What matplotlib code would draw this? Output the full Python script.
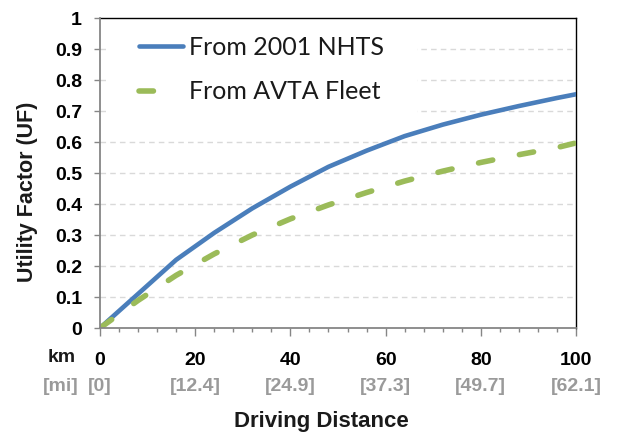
import matplotlib
matplotlib.use("Agg")
import matplotlib.pyplot as plt
from matplotlib.patches import Rectangle
from matplotlib.ticker import MultipleLocator

km = [0, 8, 16, 24, 32, 40, 48, 56, 64, 72, 80, 88, 96, 100]
uf_nhts = [0, 0.11, 0.22, 0.307, 0.386, 0.456, 0.52, 0.572, 0.619, 0.656, 0.688, 0.716, 0.742, 0.754]
uf_avta = [0, 0.089, 0.17, 0.239, 0.300, 0.352, 0.397, 0.437, 0.474, 0.506, 0.534, 0.559, 0.582, 0.597]
km_ticks = [0, 20, 40, 60, 80, 100]
mi_labels = ["[0]", "[12.4]", "[24.9]", "[37.3]", "[49.7]", "[62.1]"]
y_ticks = [0, 0.1, 0.2, 0.3, 0.4, 0.5, 0.6, 0.7, 0.8, 0.9, 1]
y_labels = ["0", "0.1", "0.2", "0.3", "0.4", "0.5", "0.6", "0.7", "0.8", "0.9", "1"]

W, H = 619, 436
fig = plt.figure(figsize=(W / 100, H / 100), dpi=100)
L, R, T, B = 100, 576, 18, 328
ax = fig.add_axes([L / W, 1 - B / H, (R - L) / W, (B - T) / H])

blue = "#4A7EBB"
green = "#9BBB59"
gray_axis = "#868686"
gray_txt = "#9A9A9A"

ax.set_xlim(0, 100)
ax.set_ylim(0, 1)

# gridlines
for y in y_ticks[1:-1]:
    ax.axhline(y, color="#D9D9D9", lw=1, ls=(0, (4, 3)), zorder=1)

# white legend backdrop
ax.add_patch(Rectangle(((106 - L) / (R - L), 0.69), (417 - 106) / (R - L), 0.31,
                       transform=ax.transAxes, facecolor="white", edgecolor="none", zorder=2))

ax.plot(km, uf_nhts, color=blue, lw=3.3, solid_capstyle="round", solid_joinstyle="round",
        zorder=3, label="From 2001 NHTS")
ax.plot(km, uf_avta, color=green, lw=4.0, ls=(0, (2.6, 4.9)), dash_capstyle="round", zorder=4,
        label="From AVTA Fleet")

# spines
for s in ["top", "right"]:
    ax.spines[s].set_color("black")
    ax.spines[s].set_linewidth(1.0)
for s in ["left", "bottom"]:
    ax.spines[s].set_color(gray_axis)
    ax.spines[s].set_linewidth(1.3)
    ax.spines[s].set_zorder(5)

ax.set_yticks(y_ticks)
ax.set_yticklabels(y_labels, fontfamily="Liberation Sans", fontweight="bold", fontsize=14)
ax.set_xticks(km_ticks)
ax.set_xticklabels([str(k) for k in km_ticks], fontfamily="Liberation Sans", fontweight="bold", fontsize=14)
ax.xaxis.set_minor_locator(MultipleLocator(4))
ax.tick_params(axis="y", direction="out", length=4, width=1, color=gray_axis, pad=9)
ax.tick_params(axis="x", which="major", direction="out", length=6, width=1, color=gray_axis, pad=11)
ax.tick_params(axis="x", which="minor", direction="out", length=3, width=1, color=gray_axis)

# mile labels
for k, lab in zip(km_ticks, mi_labels):
    ax.text(k, -(386 - B) / (B - T), lab, ha="center", va="center", fontfamily="Liberation Sans",
            fontweight="bold", fontsize=14, color=gray_txt, transform=ax.get_xaxis_transform(), clip_on=False)

fig.text(62 / W, 1 - 357 / H, "km", ha="center", va="center", fontfamily="Liberation Sans",
         fontweight="bold", fontsize=14, color="#1A1A1A")
fig.text(61 / W, 1 - 386 / H, "[mi]", ha="center", va="center", fontfamily="Liberation Sans",
         fontweight="bold", fontsize=14, color=gray_txt)
fig.text(321 / W, 1 - 421 / H, "Driving Distance", ha="center", va="center", fontfamily="Liberation Sans",
         fontweight="bold", fontsize=16, color="#1A1A1A")
fig.text(27 / W, 1 - 192 / H, "Utility Factor (UF)", ha="center", va="center", rotation=90,
         fontfamily="Liberation Sans", fontweight="bold", fontsize=15.5, color="#1A1A1A")

leg = ax.legend(loc="upper left", bbox_to_anchor=((139 - L) / (R - L), (B - 36) / (B - T)),
                frameon=False, borderpad=0, borderaxespad=0, handlelength=1.75, handletextpad=0.25,
                labelspacing=0.85, prop={"family": "Lato", "size": 18})
leg.set_zorder(6)
for t in leg.get_texts():
    t.set_color("#1A1A1A")
leg.get_lines()[1].set_linestyle((0, (2.6, 20)))

fig.savefig("out.png", dpi=100)
